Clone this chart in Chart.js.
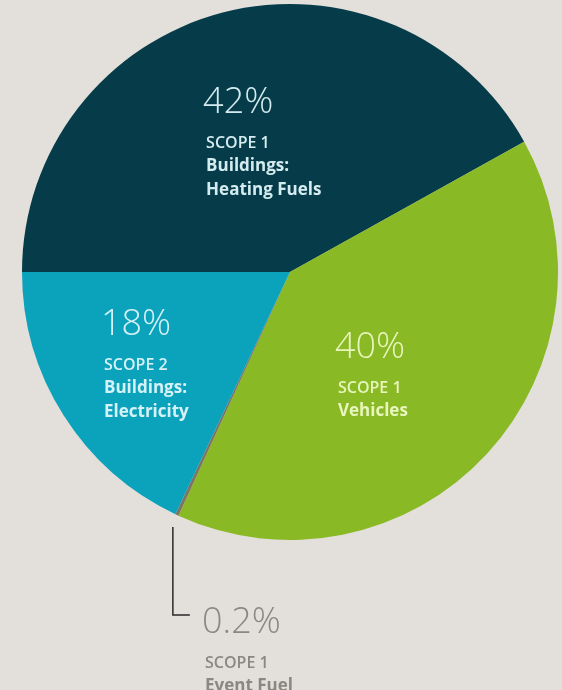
<!DOCTYPE html>
<html>
<head>
<meta charset="utf-8">
<script src="https://cdn.jsdelivr.net/npm/chart.js@4.4.1/dist/chart.umd.min.js"></script>
<style>
  html, body { margin: 0; padding: 0; background: #e3dfda; }
  #wrap { width: 562px; height: 690px; }
</style>
</head>
<body>
<div id="wrap"><canvas id="emissions" width="562" height="690"></canvas></div>
<script>
// emissions share by source (clockwise from 9 o'clock)
var percents = ['42%', '40%', '0.2%', '18%'];
var shares = [42, 40, 0.2, 18];
var scopes = ['SCOPE 1', 'SCOPE 1', 'SCOPE 1', 'SCOPE 2'];
var sources = [['Buildings:', 'Heating Fuels'], ['Vehicles'], ['Event Fuel'], ['Buildings:', 'Electricity']];

var sliceColors = ['#063c4a', '#89b924', '#7d7463', '#0ba2bc'];
var textColors = ['#d4ecef', '#e8f5bd', '#8b8781', '#d6f2f6'];
// text block anchor, in units of the pie radius from its centre
var labelAnchors = [[-0.313, -0.649], [0.179, 0.265], [-0.317, 1.291], [-0.694, 0.179]];

var sliceLabels = {
  id: 'sliceLabels',
  afterDatasetsDraw: function(chart) {
    var ctx = chart.ctx;
    var arcs = chart.getDatasetMeta(0).data;
    ctx.save();
    ctx.textBaseline = 'middle';
    ctx.textAlign = 'left';
    arcs.forEach(function(arc, i) {
      var r = arc.outerRadius;
      var x = arc.x + labelAnchors[i][0] * r;
      var y = arc.y + labelAnchors[i][1] * r;
      ctx.fillStyle = textColors[i];
      ctx.font = '300 36px "Open Sans"';
      ctx.fillText(percents[i], x - 3, y + 5);
      y += 45;
      ctx.font = '600 16px "Open Sans"';
      ctx.fillText(scopes[i], x, y);
      ctx.font = '700 17px "Open Sans"';
      sources[i].forEach(function(line) {
        y += 23.5;
        ctx.fillText(line, x, y);
      });
    });

    // leader from the thin event-fuel slice down to its label
    var ev = arcs[2];
    var mid = (ev.startAngle + ev.endAngle) / 2;
    var lx = ev.x + Math.cos(mid) * ev.outerRadius - 4;
    var ly = ev.y + labelAnchors[2][1] * ev.outerRadius - 3;
    ctx.strokeStyle = '#2a2a2a';
    ctx.lineWidth = 1.5;
    ctx.beginPath();
    ctx.moveTo(lx, ev.y + Math.sin(mid) * ev.outerRadius + 12);
    ctx.lineTo(lx, ly);
    ctx.lineTo(lx + 17, ly);
    ctx.stroke();
    ctx.restore();
  }
};

new Chart(document.getElementById('emissions'), {
  type: 'pie',
  data: {
    labels: percents,
    datasets: [{
      data: shares,
      backgroundColor: sliceColors,
      borderWidth: 0
    }]
  },
  options: {
    responsive: false,
    animation: false,
    rotation: -90,
    layout: { padding: { left: 22, right: 4, top: 4, bottom: 150 } },
    plugins: {
      legend: { display: false },
      tooltip: { enabled: false }
    }
  },
  plugins: [sliceLabels]
});
</script>
</body>
</html>
